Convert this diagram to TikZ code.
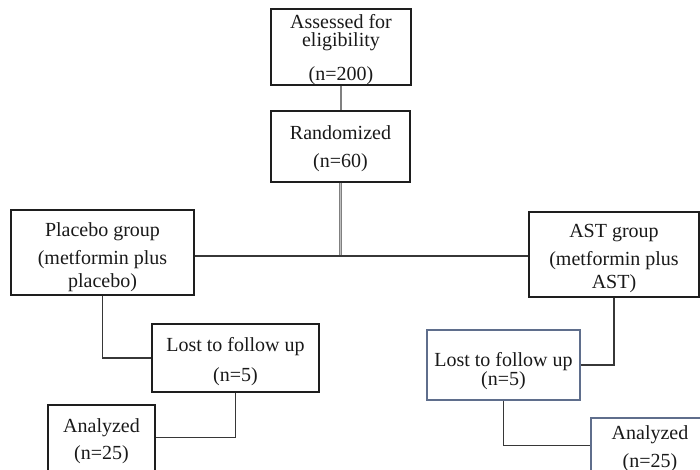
\documentclass[tikz,border=0pt]{standalone}
\usepackage{fontspec}
\setmainfont{Liberation Serif}
\definecolor{boxgray}{RGB}{30,30,30}
\definecolor{slate}{RGB}{95,110,140}
\definecolor{linegray}{RGB}{55,55,55}
\newcommand{\myH}[1]{\rule{0pt}{#1pt}}
\newcommand{\myD}[1]{\rule[-#1pt]{0pt}{#1pt}}
\begin{document}
\begin{tikzpicture}[x=1pt,y=-1pt,
  box/.style={draw=boxgray, line width=1.3pt, rectangle, inner sep=0pt, align=center, text=black!90},
  fs/.style={font=\fontsize{20}{#1}\selectfont},
  conn/.style={draw=linegray, line width=1.2pt},
  dbl/.style={draw=gray, double=black!25, double distance=0.9pt, line width=0.9pt}]
\useasboundingbox (0,0) rectangle (700,470);
\clip (0,0) rectangle (700,470);
\node[box, fs=18pt, minimum width=140, minimum height=70] (assess) at (341,47)
  {\myH{20}Assessed for\\eligibility\\[14.5pt](n=200)\myD{4.5}};
\node[box, fs=28pt, minimum width=139, minimum height=71] (rand) at (340.5,146.5)
  {\myH{19.5}Randomized\\(n=60)\myD{4.5}};
\node[box, fs=28pt, minimum width=183, minimum height=85] (placebo) at (102.5,252.5)
  {\myH{23.9}Placebo group\\(metformin plus\\[-5pt]placebo)\myD{4.5}};
\node[box, fs=28pt, minimum width=170, minimum height=85] (ast) at (614,254.5)
  {\myH{20.9}AST group\\(metformin plus\\[-5pt]AST)\myD{4.5}};
\node[box, fs=30pt, minimum width=167, minimum height=68] (lost1) at (235.5,358)
  {\myH{22}Lost to follow up\\(n=5)\myD{4.5}};
\node[box, draw=slate, fs=19pt, minimum width=153, minimum height=70] (lost2) at (503.5,365)
  {\myH{27}Lost to follow up\\(n=5)\myD{4.5}};
\node[box, fs=27pt, minimum width=107, minimum height=85] (an1) at (101.5,447.5)
  {\myH{16}Analyzed\\(n=25)\myD{18.5}};
\node[box, draw=slate, fs=28pt, minimum width=118, minimum height=82] (an2) at (650,459)
  {\myH{16}Analyzed\\(n=25)\myD{26.5}};
\coordinate (J) at (342,256);
\draw[conn, draw=gray] (assess.south) -- (assess.south |- rand.north);
\draw[dbl] (rand.south) -- (rand.south |- J);
\draw[conn] (placebo.east |- J) -- (ast.west |- J);
\draw[conn] (placebo.south) |- (lost1.west);
\draw[conn] (lost1.south) |- ([yshift=-33pt]an1.north east);
\draw[conn] (ast.south) |- (lost2.east);
\draw[conn] (lost2.south) |- ([yshift=-28pt]an2.north west);
\end{tikzpicture}
\end{document}
